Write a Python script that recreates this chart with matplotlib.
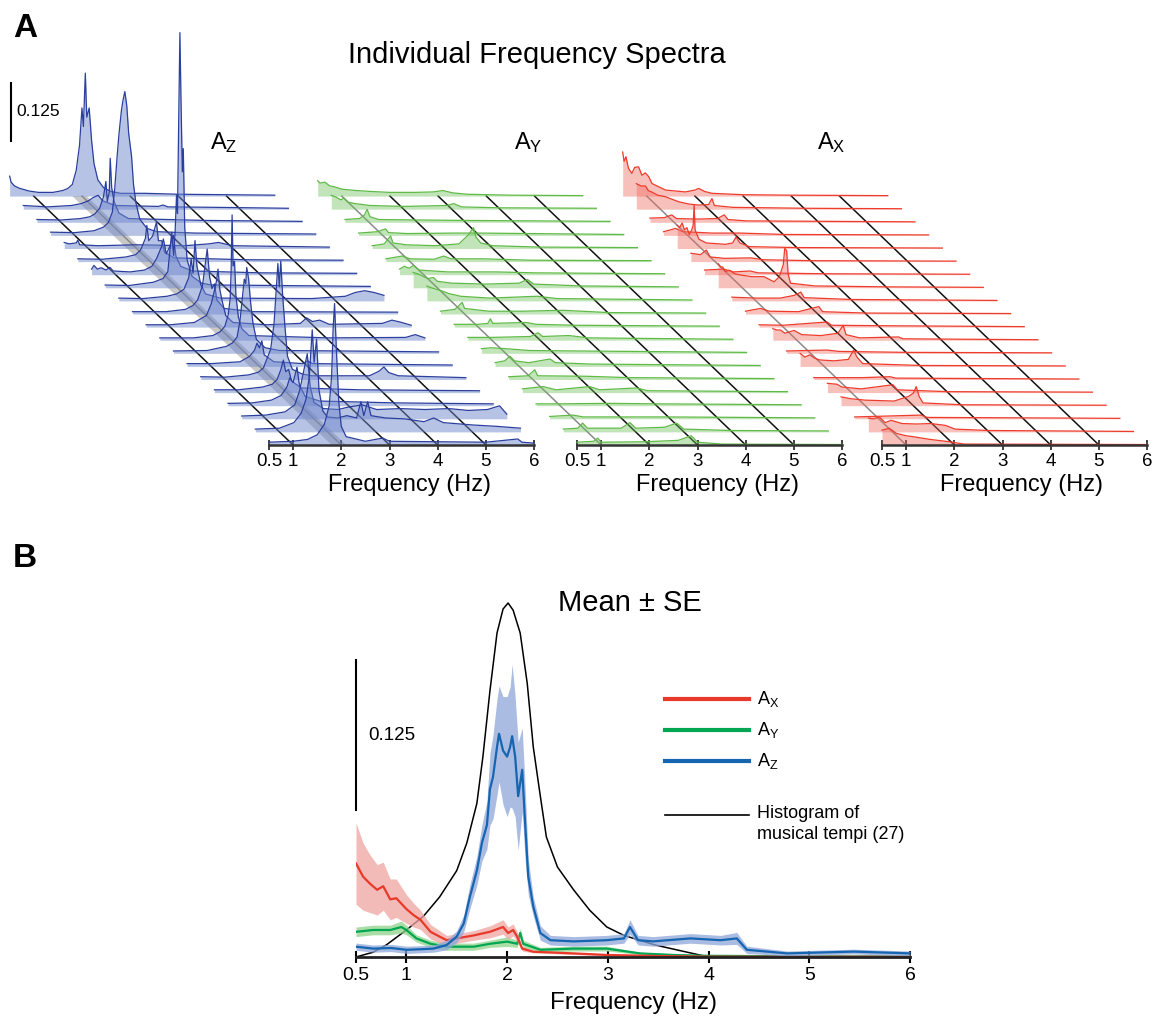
import numpy as np
import matplotlib
matplotlib.use('Agg')
import matplotlib.pyplot as plt

plt.rcParams['font.family'] = ['Liberation Sans', 'DejaVu Sans']
plt.rcParams['mathtext.default'] = 'regular'

# ---------------- data: panel A, individual spectra (freq Hz, amplitude) ----------------
# trace 0 = back (top), trace 19 = front (bottom)
AZ_TRACES = [
    [(0.5, 0.043), (0.53, 0.03), (0.6, 0.022), (0.7, 0.017), (0.8, 0.014), (0.9, 0.011), (1.1, 0.008), (1.4, 0.008),
     (1.6, 0.012), (1.7, 0.016), (1.8, 0.025), (1.88, 0.055), (1.95, 0.11), (2.0, 0.19), (2.03, 0.15), (2.07, 0.265),
     (2.1, 0.17), (2.15, 0.19), (2.2, 0.12), (2.25, 0.07), (2.33, 0.035), (2.45, 0.018), (2.6, 0.01), (2.8, 0.006),
     (3.3, 0.006), (4.0, 0.004), (5.0, 0.003), (6.0, 0.002)],
    [(0.5, 0.008), (1.0, 0.005), (1.5, 0.008), (1.7, 0.012), (1.85, 0.018), (1.95, 0.025), (2.05, 0.03), (2.15, 0.018),
     (2.4, 0.008), (3.3, 0.006), (3.4, 0.009), (3.5, 0.005), (4.5, 0.004), (6.0, 0.002)],
    [(0.5, 0.006), (1.0, 0.005), (1.4, 0.008), (1.6, 0.012), (1.7, 0.018), (1.8, 0.03), (1.88, 0.055), (1.93, 0.088),
     (1.96, 0.045), (2.0, 0.065), (2.02, 0.138), (2.05, 0.075), (2.1, 0.045), (2.2, 0.02), (2.4, 0.008), (4.0, 0.004),
     (6.0, 0.002)],
    [(0.5, 0.007), (1.0, 0.006), (1.4, 0.01), (1.6, 0.018), (1.7, 0.028), (1.78, 0.05), (1.83, 0.1), (1.88, 0.17),
     (1.92, 0.22), (1.97, 0.27), (2.0, 0.29), (2.04, 0.31), (2.08, 0.28), (2.12, 0.22), (2.18, 0.17), (2.22, 0.11),
     (2.27, 0.07), (2.35, 0.035), (2.5, 0.015), (2.7, 0.008), (3.5, 0.005), (6.0, 0.003)],
    [(0.5, 0.013), (0.6, 0.01), (0.75, 0.012), (0.78, 0.018), (0.82, 0.008), (1.2, 0.006), (2.0, 0.008), (3.0, 0.006),
     (3.5, 0.01), (3.7, 0.013), (4.0, 0.006), (6.0, 0.003)],
    [(0.5, 0.006), (1.0, 0.005), (1.5, 0.01), (1.7, 0.015), (1.8, 0.025), (1.9, 0.05), (1.93, 0.078), (1.97, 0.045),
     (2.05, 0.055), (2.13, 0.085), (2.17, 0.045), (2.24, 0.045), (2.3, 0.02), (2.5, 0.008), (4.0, 0.004), (6.0, 0.003)],
    [(0.5, 0.012), (0.55, 0.02), (0.62, 0.012), (0.7, 0.015), (0.8, 0.01), (0.88, 0.016), (0.95, 0.008), (1.3, 0.006),
     (1.6, 0.01), (1.75, 0.018), (1.85, 0.035), (1.95, 0.06), (1.99, 0.077), (2.05, 0.045), (2.12, 0.06), (2.2, 0.085),
     (2.25, 0.04), (2.35, 0.018), (2.6, 0.008), (4.0, 0.004), (6.0, 0.003)],
    [(0.5, 0.006), (1.0, 0.005), (1.5, 0.012), (1.7, 0.02), (1.8, 0.035), (1.88, 0.12), (1.92, 0.07), (1.95, 0.12),
     (1.98, 0.2), (2.0, 0.16), (2.03, 0.4), (2.05, 0.55), (2.07, 0.42), (2.1, 0.25), (2.12, 0.3), (2.15, 0.13),
     (2.2, 0.06), (2.3, 0.025), (2.5, 0.01), (2.7, 0.006), (4.0, 0.005), (6.0, 0.003)],
    [(0.5, 0.006), (1.0, 0.005), (1.5, 0.01), (1.7, 0.015), (1.85, 0.025), (1.95, 0.05), (2.0, 0.09), (2.04, 0.06),
     (2.08, 0.13), (2.12, 0.075), (2.2, 0.035), (2.3, 0.015), (2.6, 0.006), (4.5, 0.005), (5.2, 0.01), (5.4, 0.018),
     (5.6, 0.022), (5.8, 0.018), (6.0, 0.012)],
    [(0.5, 0.005), (1.2, 0.005), (1.6, 0.01), (1.75, 0.018), (1.85, 0.03), (1.95, 0.06), (2.0, 0.1), (2.05, 0.14),
     (2.1, 0.08), (2.15, 0.055), (2.2, 0.065), (2.25, 0.03), (2.4, 0.012), (3.0, 0.005), (6.0, 0.004)],
    [(0.5, 0.005), (1.0, 0.005), (1.5, 0.01), (1.75, 0.025), (1.85, 0.05), (1.92, 0.08), (1.96, 0.1), (1.99, 0.125),
     (2.03, 0.08), (2.08, 0.055), (2.15, 0.025), (2.3, 0.01), (3.0, 0.005), (3.7, 0.008), (3.83, 0.02), (3.95, 0.012),
     (4.1, 0.015), (4.3, 0.006), (5.4, 0.008), (5.6, 0.015), (5.8, 0.01), (6.0, 0.004)],
    [(0.5, 0.005), (1.2, 0.005), (1.6, 0.01), (1.75, 0.018), (1.85, 0.03), (1.92, 0.055), (1.96, 0.09), (1.98, 0.15),
     (2.0, 0.27), (2.02, 0.16), (2.05, 0.17), (2.08, 0.095), (2.13, 0.05), (2.2, 0.025), (2.35, 0.01), (4.0, 0.005),
     (5.6, 0.006), (5.8, 0.012), (6.0, 0.005)],
    [(0.5, 0.005), (1.2, 0.006), (1.6, 0.015), (1.72, 0.022), (1.82, 0.035), (1.88, 0.07), (1.93, 0.12), (1.97, 0.16),
     (2.0, 0.15), (2.02, 0.185), (2.06, 0.16), (2.1, 0.11), (2.15, 0.065), (2.22, 0.03), (2.4, 0.012), (2.7, 0.006),
     (4.0, 0.005), (6.0, 0.003)],
    [(0.5, 0.006), (1.0, 0.006), (1.6, 0.01), (1.8, 0.022), (1.9, 0.035), (1.95, 0.05), (2.0, 0.04), (2.05, 0.055),
     (2.1, 0.025), (2.3, 0.01), (2.9, 0.006), (3.0, 0.012), (3.1, 0.006), (4.0, 0.005), (6.0, 0.003)],
    [(0.5, 0.006), (1.0, 0.005), (1.5, 0.01), (1.7, 0.016), (1.8, 0.025), (1.95, 0.065), (2.02, 0.12), (2.07, 0.2),
     (2.1, 0.25), (2.13, 0.2), (2.16, 0.255), (2.2, 0.18), (2.25, 0.11), (2.3, 0.05), (2.4, 0.022), (2.6, 0.012),
     (2.8, 0.008), (4.0, 0.008), (4.2, 0.018), (4.3, 0.027), (4.4, 0.015), (4.6, 0.008), (6.0, 0.004)],
    [(0.5, 0.006), (1.0, 0.006), (1.5, 0.012), (1.7, 0.018), (1.8, 0.028), (1.88, 0.05), (1.93, 0.07), (1.98, 0.045),
     (2.04, 0.05), (2.1, 0.025), (2.3, 0.01), (3.5, 0.006), (6.0, 0.004)],
    [(0.5, 0.005), (1.0, 0.006), (1.4, 0.012), (1.6, 0.022), (1.72, 0.04), (1.78, 0.06), (1.85, 0.05), (1.93, 0.083),
     (1.98, 0.045), (2.1, 0.02), (2.4, 0.01), (4.0, 0.006), (6.0, 0.004)],
    [(0.5, 0.006), (1.0, 0.008), (1.4, 0.015), (1.6, 0.03), (1.7, 0.06), (1.78, 0.1), (1.86, 0.14), (1.92, 0.07),
     (2.0, 0.035), (2.2, 0.022), (2.5, 0.02), (2.7, 0.025), (3.0, 0.03), (3.3, 0.02), (3.8, 0.022), (4.3, 0.02),
     (4.8, 0.022), (5.2, 0.018), (5.6, 0.02), (5.85, 0.028), (6.0, 0.01)],
    [(0.5, 0.006), (1.0, 0.008), (1.3, 0.02), (1.45, 0.04), (1.55, 0.07), (1.62, 0.12), (1.68, 0.22), (1.72, 0.15),
     (1.77, 0.2), (1.82, 0.09), (1.9, 0.045), (2.0, 0.032), (2.2, 0.03), (2.4, 0.035), (2.6, 0.03), (2.69, 0.065),
     (2.75, 0.035), (2.83, 0.065), (2.9, 0.035), (3.2, 0.03), (3.6, 0.028), (4.0, 0.022), (4.2, 0.03), (4.4, 0.02),
     (5.0, 0.015), (5.5, 0.012), (6.0, 0.008)],
    [(0.5, 0.006), (1.0, 0.008), (1.3, 0.012), (1.5, 0.022), (1.65, 0.045), (1.75, 0.085), (1.8, 0.15), (1.83, 0.25),
     (1.86, 0.305), (1.9, 0.2), (1.95, 0.09), (2.0, 0.04), (2.1, 0.018), (2.5, 0.008), (2.86, 0.015), (3.0, 0.008),
     (4.0, 0.007), (5.0, 0.006), (5.66, 0.013), (5.75, 0.006), (6.0, 0.004)],
]

AY_TRACES = [
    [(0.5, 0.033), (0.55, 0.028), (0.65, 0.03), (0.75, 0.022), (0.85, 0.02), (1.0, 0.015), (1.3, 0.012), (1.6, 0.01),
     (2.0, 0.008), (2.5, 0.008), (2.9, 0.009), (3.1, 0.012), (3.3, 0.007), (3.6, 0.004), (4.5, 0.002), (6.0, 0.001)],
    [(0.5, 0.03), (0.6, 0.026), (0.7, 0.02), (0.76, 0.024), (0.85, 0.015), (1.0, 0.012), (1.3, 0.008), (2.0, 0.006),
     (2.9, 0.008), (3.04, 0.012), (3.2, 0.005), (4.0, 0.003), (6.0, 0.002)],
    [(0.5, 0.006), (0.8, 0.008), (0.9, 0.015), (0.96, 0.028), (1.02, 0.012), (1.2, 0.006), (2.0, 0.005), (3.0, 0.004),
     (6.0, 0.002)],
    [(0.5, 0.005), (0.9, 0.008), (1.0, 0.012), (1.06, 0.014), (1.12, 0.006), (1.5, 0.004), (2.5, 0.005), (3.0, 0.005),
     (6.0, 0.002)],
    [(0.5, 0.006), (0.75, 0.01), (0.88, 0.027), (0.93, 0.012), (1.2, 0.008), (1.8, 0.006), (2.3, 0.01), (2.5, 0.03),
     (2.6, 0.045), (2.65, 0.025), (2.75, 0.012), (3.0, 0.006), (4.0, 0.003), (6.0, 0.002)],
    [(0.5, 0.006), (0.84, 0.012), (1.0, 0.006), (1.5, 0.005), (1.7, 0.012), (1.85, 0.006), (2.5, 0.006), (3.5, 0.003),
     (6.0, 0.002)],
    [(0.5, 0.012), (0.6, 0.018), (0.7, 0.014), (0.79, 0.02), (0.9, 0.01), (1.5, 0.006), (2.5, 0.006), (3.3, 0.004),
     (6.0, 0.002)],
    [(0.5, 0.033), (0.6, 0.03), (0.7, 0.025), (0.8, 0.02), (0.92, 0.022), (1.0, 0.014), (1.3, 0.01), (2.0, 0.008),
     (2.7, 0.01), (2.87, 0.018), (3.0, 0.008), (4.0, 0.004), (6.0, 0.002)],
    [(0.5, 0.032), (0.6, 0.028), (0.7, 0.025), (0.8, 0.022), (0.95, 0.016), (1.2, 0.01), (1.8, 0.006), (2.79, 0.01),
     (3.2, 0.005), (6.0, 0.002)],
    [(0.5, 0.006), (0.8, 0.01), (0.95, 0.025), (1.0, 0.012), (1.5, 0.006), (2.2, 0.006), (3.05, 0.008), (4.0, 0.003),
     (6.0, 0.002)],
    [(0.5, 0.006), (1.0, 0.006), (1.2, 0.008), (1.25, 0.018), (1.3, 0.008), (2.0, 0.01), (2.2, 0.006), (3.0, 0.004),
     (6.0, 0.002)],
    [(0.5, 0.006), (1.0, 0.006), (1.8, 0.008), (1.96, 0.016), (2.05, 0.008), (2.6, 0.01), (3.0, 0.005), (6.0, 0.002)],
    [(0.5, 0.01), (0.7, 0.012), (0.99, 0.01), (1.5, 0.006), (2.5, 0.005), (6.0, 0.002)],
    [(0.5, 0.008), (0.7, 0.012), (0.81, 0.022), (0.9, 0.012), (1.2, 0.008), (1.64, 0.016), (1.75, 0.008), (2.5, 0.005),
     (6.0, 0.002)],
    [(0.5, 0.006), (0.9, 0.008), (1.04, 0.021), (1.1, 0.008), (2.1, 0.007), (3.0, 0.004), (6.0, 0.002)],
    [(0.5, 0.008), (0.93, 0.013), (1.2, 0.006), (1.9, 0.013), (2.1, 0.006), (2.87, 0.01), (3.1, 0.004), (6.0, 0.002)],
    [(0.5, 0.004), (1.0, 0.004), (2.0, 0.005), (3.0, 0.004), (6.0, 0.002)],
    [(0.5, 0.005), (0.98, 0.008), (1.2, 0.004), (3.0, 0.004), (6.0, 0.002)],
    [(0.5, 0.006), (0.8, 0.008), (0.9, 0.019), (1.0, 0.008), (1.7, 0.008), (1.88, 0.02), (2.0, 0.008), (2.6, 0.01),
     (2.85, 0.019), (3.0, 0.006), (4.0, 0.003), (6.0, 0.002)],
    [(0.5, 0.006), (0.85, 0.008), (0.93, 0.015), (1.0, 0.006), (1.9, 0.007), (2.6, 0.01), (2.87, 0.02), (3.0, 0.006),
     (3.5, 0.002), (6.0, 0.001)],
]

AX_TRACES = [
    [(0.5, 0.095), (0.53, 0.075), (0.57, 0.085), (0.62, 0.06), (0.69, 0.049), (0.75, 0.062), (0.83, 0.063), (0.9, 0.045),
     (0.97, 0.05), (1.04, 0.042), (1.11, 0.027), (1.25, 0.02), (1.39, 0.013), (1.6, 0.011), (1.8, 0.009), (2.0, 0.013),
     (2.08, 0.0165), (2.2, 0.01), (2.35, 0.006), (3.0, 0.003), (4.0, 0.002), (6.0, 0.001)],
    [(0.5, 0.055), (0.6, 0.05), (0.69, 0.05), (0.75, 0.04), (0.82, 0.037), (0.95, 0.03), (1.1, 0.027), (1.38, 0.016),
     (1.6, 0.011), (1.79, 0.009), (2.0, 0.01), (2.07, 0.023), (2.12, 0.008), (2.5, 0.004), (4.0, 0.002), (6.0, 0.001)],
    [(0.5, 0.009), (0.8, 0.01), (0.95, 0.016), (1.05, 0.008), (1.5, 0.007), (1.9, 0.008), (2.04, 0.016), (2.12, 0.006),
     (2.5, 0.003), (6.0, 0.001)],
    [(0.5, 0.008), (0.75, 0.015), (0.9, 0.008), (1.5, 0.005), (2.1, 0.005), (3.0, 0.002), (6.0, 0.001)],
    [(0.5, 0.05), (0.55, 0.045), (0.6, 0.055), (0.65, 0.04), (0.7, 0.045), (0.75, 0.03), (0.8, 0.04), (0.83, 0.05),
     (0.85, 0.094), (0.87, 0.04), (0.95, 0.02), (1.1, 0.012), (1.5, 0.009), (1.65, 0.012), (1.72, 0.025), (1.8, 0.012),
     (2.0, 0.004), (3.0, 0.002), (6.0, 0.001)],
    [(0.5, 0.018), (0.7, 0.015), (0.82, 0.025), (0.9, 0.01), (1.2, 0.007), (1.75, 0.008), (2.0, 0.004), (3.0, 0.002),
     (6.0, 0.001)],
    [(0.5, 0.01), (0.9, 0.012), (1.1, 0.006), (1.45, 0.008), (1.6, 0.004), (3.0, 0.002), (6.0, 0.001)],
    [(0.5, 0.052), (0.55, 0.045), (0.59, 0.045), (0.65, 0.035), (0.73, 0.038), (0.85, 0.03), (1.0, 0.027), (1.2, 0.024),
     (1.45, 0.024), (1.6, 0.016), (1.66, 0.013), (1.77, 0.024), (1.85, 0.05), (1.88, 0.085), (1.92, 0.08), (1.95, 0.03),
     (2.0, 0.01), (2.5, 0.004), (4.0, 0.002), (6.0, 0.001)],
    [(0.5, 0.008), (1.0, 0.006), (1.5, 0.006), (1.8, 0.012), (1.93, 0.019), (2.0, 0.007), (3.0, 0.003), (6.0, 0.001)],
    [(0.5, 0.006), (0.81, 0.012), (1.0, 0.006), (1.6, 0.005), (2.02, 0.016), (2.1, 0.005), (3.0, 0.002), (6.0, 0.001)],
    [(0.5, 0.005), (1.0, 0.004), (1.91, 0.011), (2.0, 0.004), (3.0, 0.003), (6.0, 0.001)],
    [(0.5, 0.025), (0.58, 0.022), (0.66, 0.022), (0.75, 0.015), (0.94, 0.021), (1.1, 0.012), (1.5, 0.01), (1.85, 0.015),
     (1.96, 0.032), (2.02, 0.012), (2.3, 0.005), (3.11, 0.007), (3.2, 0.003), (6.0, 0.001)],
    [(0.5, 0.005), (1.34, 0.007), (1.6, 0.004), (3.0, 0.002), (6.0, 0.001)],
    [(0.5, 0.028), (0.6, 0.02), (0.7, 0.025), (0.8, 0.018), (0.9, 0.014), (1.2, 0.012), (1.5, 0.015), (1.61, 0.035),
     (1.68, 0.02), (1.8, 0.006), (3.0, 0.002), (6.0, 0.001)],
    [(0.5, 0.004), (1.5, 0.004), (2.08, 0.006), (2.2, 0.003), (6.0, 0.001)],
    [(0.5, 0.02), (0.7, 0.018), (0.8, 0.012), (1.2, 0.008), (1.86, 0.017), (1.95, 0.006), (3.0, 0.002), (6.0, 0.001)],
    [(0.5, 0.019), (0.7, 0.015), (1.0, 0.012), (1.6, 0.01), (1.9, 0.02), (2.0, 0.027), (2.06, 0.041), (2.12, 0.02),
     (2.2, 0.006), (3.0, 0.002), (6.0, 0.001)],
    [(0.5, 0.004), (1.88, 0.008), (2.0, 0.003), (6.0, 0.001)],
    [(0.5, 0.03), (0.6, 0.028), (0.73, 0.032), (0.85, 0.02), (0.97, 0.025), (1.2, 0.018), (1.5, 0.017), (1.8, 0.018),
     (2.1, 0.014), (2.3, 0.006), (3.0, 0.003), (6.0, 0.001)],
    [(0.5, 0.032), (0.65, 0.036), (0.8, 0.025), (1.0, 0.02), (1.14, 0.018), (1.5, 0.012), (1.9, 0.007), (2.2, 0.002),
     (6.0, 0.001)],
]

# ---------------- data: panel B, mean +- SE ----------------
ax_freq = [0.5, 0.57, 0.64, 0.71, 0.77, 0.84, 0.9, 1.0, 1.07, 1.14, 1.24, 1.33, 1.4, 1.5, 1.67, 1.83, 1.96, 2.01,
           2.06, 2.1, 2.15, 2.26, 2.66, 2.99, 3.5, 4.0, 5.0, 6.0]
ax_mean = [0.078, 0.067, 0.061, 0.056, 0.059, 0.048, 0.049, 0.040, 0.035, 0.031, 0.021, 0.017, 0.014, 0.0155, 0.018,
           0.021, 0.025, 0.020, 0.0225, 0.017, 0.007, 0.0044, 0.003, 0.0017, 0.0008, 0.0003, 0.0002, 0.0002]
ax_se = [0.034, 0.028, 0.024, 0.021, 0.02, 0.017, 0.016, 0.012, 0.01, 0.008, 0.006, 0.005, 0.004, 0.004, 0.004,
         0.005, 0.006, 0.005, 0.005, 0.004, 0.002, 0.001, 0.001, 0.0008, 0.0005, 0.0003, 0.0002, 0.0002]

ay_freq = [0.5, 0.67, 0.84, 0.95, 1.0, 1.1, 1.24, 1.4, 1.67, 1.83, 2.0, 2.1, 2.13, 2.16, 2.33, 2.5, 2.66, 2.99, 3.32,
           3.7, 4.0, 5.0, 6.0]
ay_mean = [0.021, 0.0225, 0.0225, 0.025, 0.0225, 0.0155, 0.011, 0.0086, 0.0086, 0.011, 0.0128, 0.011, 0.02, 0.011,
           0.006, 0.0065, 0.007, 0.007, 0.003, 0.0015, 0.001, 0.0005, 0.0004]
ay_se = [0.004, 0.004, 0.004, 0.005, 0.004, 0.003, 0.003, 0.003, 0.003, 0.003, 0.004, 0.003, 0.004, 0.003, 0.002,
         0.002, 0.002, 0.002, 0.001, 0.001, 0.0008, 0.0005, 0.0005]

az_freq = [0.5, 0.67, 0.85, 1.0, 1.15, 1.27, 1.4, 1.5, 1.57, 1.63, 1.7, 1.75, 1.8, 1.83, 1.86, 1.9, 1.92, 1.96, 2.0,
           2.03, 2.05, 2.08, 2.11, 2.15, 2.18, 2.21, 2.26, 2.33, 2.43, 2.66, 2.99, 3.16, 3.22, 3.3, 3.45, 3.82, 4.12,
           4.28, 4.38, 4.78, 5.44, 6.0]
az_mean = [0.0086, 0.007, 0.0075, 0.006, 0.0065, 0.007, 0.01, 0.017, 0.028, 0.05, 0.072, 0.095, 0.11, 0.14, 0.15,
           0.175, 0.186, 0.172, 0.167, 0.175, 0.184, 0.167, 0.134, 0.156, 0.11, 0.067, 0.042, 0.02, 0.014, 0.013,
           0.014, 0.0155, 0.025, 0.014, 0.013, 0.0155, 0.014, 0.0155, 0.006, 0.003, 0.0045, 0.003]
az_se = [0.003, 0.003, 0.003, 0.003, 0.003, 0.003, 0.004, 0.005, 0.007, 0.01, 0.012, 0.015, 0.02, 0.03, 0.035, 0.04,
         0.04, 0.045, 0.05, 0.05, 0.06, 0.05, 0.045, 0.035, 0.03, 0.015, 0.008, 0.006, 0.004, 0.004, 0.004, 0.004,
         0.006, 0.004, 0.004, 0.004, 0.004, 0.005, 0.003, 0.002, 0.002, 0.002]

hist_freq = [0.5, 0.67, 0.8, 1.0, 1.17, 1.33, 1.5, 1.6, 1.7, 1.76, 1.83, 1.9, 1.96, 2.01, 2.06, 2.13, 2.2, 2.26, 2.33,
             2.39, 2.5, 2.66, 2.82, 2.99, 3.16, 3.47, 4.0]
hist_val = [0.0, 0.004, 0.01, 0.0225, 0.034, 0.05, 0.072, 0.095, 0.128, 0.167, 0.222, 0.27, 0.29, 0.295, 0.289, 0.27,
            0.228, 0.175, 0.134, 0.1, 0.075, 0.056, 0.039, 0.025, 0.018, 0.01, 0.0]

freq_ticks = [0.5, 1, 2, 3, 4, 5, 6]
freq_ticklabels = ['0.5', '1', '2', '3', '4', '5', '6']

# ---------------- layout ----------------
W, H = 1156, 1017
fig = plt.figure(figsize=(W / 100, H / 100), dpi=100)


def px_axes(left, right, bottom, top):
    return fig.add_axes([left / W, 1 - bottom / H, (right - left) / W, (bottom - top) / H])


PX_HZ = 48.2      # pixels per Hz in panel A
PX_AMP = 464.0    # pixels per amplitude unit in panel A
SX = 13.65 / PX_HZ
SY = 13.1 / PX_AMP
BASE_Y = 445


def waterfall(x0, traces, line_c, fill_c, fill_a, grey_line, band=False):
    ax = px_axes(x0 - 265, x0 + 268, BASE_Y, 20)
    ax.patch.set_visible(False)
    ax.set_xlim(0.5 - 265 / PX_HZ, 0.5 + 268 / PX_HZ)
    ax.set_ylim(0, (BASE_Y - 20) / PX_AMP)
    n = len(traces)
    top = n - 1
    if band:
        ax.fill([1.8 - top * SX, 2.1 - top * SX, 2.1, 1.8], [top * SY, top * SY, 0, 0],
                color='#9c9c9c', alpha=0.55, lw=0, zorder=1)
    for f0 in [1, 2, 3, 4, 5]:
        c = '#111111'
        if f0 == grey_line:
            c = '#8a8a8a'
        ax.plot([f0 - top * SX, f0], [top * SY, 0], color=c, lw=1.1, zorder=2)
    for k, tr in enumerate(traces):
        lvl = top - k
        f = np.array([p[0] for p in tr])
        a = np.array([p[1] for p in tr])
        x = f - lvl * SX
        y0 = lvl * SY
        ax.fill_between(x, y0, y0 + a, color=fill_c, alpha=fill_a, lw=0, zorder=3 + 2 * k)
        ax.plot(x, y0 + a, color=line_c, lw=0.9, zorder=4 + 2 * k)
    for s in ['top', 'right', 'left']:
        ax.spines[s].set_visible(False)
    ax.spines['bottom'].set_bounds(0.5, 6)
    ax.spines['bottom'].set_linewidth(1.8)
    ax.spines['bottom'].set_color('#333333')
    ax.spines['bottom'].set_zorder(60)
    ax.set_yticks([])
    ax.set_xticks(freq_ticks)
    ax.set_xticklabels(freq_ticklabels)
    ax.tick_params(axis='x', direction='inout', length=7, width=1.3, labelsize=13.5, pad=2, color='#333333')
    ax.set_xlabel('Frequency (Hz)', fontsize=17)
    ax.xaxis.set_label_coords((265 + 140) / 533, -0.069)
    return ax


ax_z = waterfall(269, AZ_TRACES, '#2b3f9e', '#7088cc', 0.5, 2, band=True)
ax_y = waterfall(577, AY_TRACES, '#5fba46', '#6cc25a', 0.42, 1)
ax_x = waterfall(882, AX_TRACES, '#ee3b2b', '#ee6a5f', 0.42, 1)

# scale bar, panel A
sb_x = 0.5 - (269 - 11) / PX_HZ
sb_y0 = (BASE_Y - 141) / PX_AMP
ax_z.plot([sb_x, sb_x], [sb_y0, sb_y0 + 0.125], color='black', lw=1.5, clip_on=False)
ax_z.text(sb_x + 0.11, sb_y0 + 0.0625, '0.125', fontsize=12.5, va='center', ha='left')

fig.text(13 / W, 1 - 13 / H, 'A', fontsize=24, fontweight='bold', va='top', ha='left')
fig.text(537 / W, 1 - 55 / H, 'Individual Frequency Spectra', fontsize=21, ha='center', va='center')
fig.text(210 / W, 1 - 149 / H, '$A_Z$', fontsize=17, ha='left', va='baseline')
fig.text(514 / W, 1 - 149 / H, '$A_Y$', fontsize=17, ha='left', va='baseline')
fig.text(817 / W, 1 - 149 / H, '$A_X$', fontsize=17, ha='left', va='baseline')

# ---------------- panel B ----------------
fig.text(13 / W, 1 - 543 / H, 'B', fontsize=24, fontweight='bold', va='top', ha='left')
fig.text(630 / W, 1 - 603 / H, 'Mean ± SE', fontsize=21, ha='center', va='center')
axb = px_axes(356, 910, 957, 585)
axb.patch.set_visible(False)
axb.set_xlim(0.5, 6)
axb.set_ylim(0, 0.31)

axb.plot(hist_freq, hist_val, color='black', lw=1.1, zorder=2)

series = [
    (ay_freq, ay_mean, ay_se, '#00a651', '#8fd48a'),
    (ax_freq, ax_mean, ax_se, '#e8392a', '#f0a4a0'),
    (az_freq, az_mean, az_se, '#1565b0', '#8fa6da'),
]
for i, (fq, m, se, lc, fc) in enumerate(series):
    fq = np.array(fq)
    m = np.array(m)
    se = np.array(se)
    axb.fill_between(fq, np.clip(m - se, 0, None), m + se, color=fc, alpha=0.75, lw=0, zorder=3 + 2 * i)
    axb.plot(fq, m, color=lc, lw=1.6, zorder=4 + 2 * i)

for s in ['top', 'right', 'left']:
    axb.spines[s].set_visible(False)
axb.spines['bottom'].set_bounds(0.5, 6)
axb.spines['bottom'].set_linewidth(2)
axb.spines['bottom'].set_color('#222222')
axb.spines['bottom'].set_zorder(30)
axb.set_yticks([])
axb.set_xticks(freq_ticks)
axb.set_xticklabels(freq_ticklabels)
axb.tick_params(axis='x', direction='inout', length=8, width=1.5, labelsize=14, pad=3)
axb.set_xlabel('Frequency (Hz)', fontsize=17.5, labelpad=6)

# scale bar, panel B
axb.plot([0.5, 0.5], [0.1225, 0.1225 + 0.125], color='black', lw=1.5, clip_on=False)
axb.text(0.62, 0.1225 + 0.0625, '0.125', fontsize=13.5, va='center', ha='left')

# legend
leg_items = [('$A_X$', '#e8392a', 3.0, 0.694, 0.694, 'center'),
             ('$A_Y$', '#00a651', 3.0, 0.610, 0.610, 'center'),
             ('$A_Z$', '#1565b0', 3.0, 0.527, 0.527, 'center'),
             ('Histogram of\nmusical tempi (27)', 'black', 1.2, 0.382, 0.409, 'top')]
for lab, c, lw, yy, ty, va in leg_items:
    axb.plot([0.558, 0.709], [yy, yy], color=c, lw=lw, transform=axb.transAxes, clip_on=False)
    axb.text(0.724, ty, lab, fontsize=13, va=va, ha='left', transform=axb.transAxes, linespacing=1.3)

fig.savefig('out.png', dpi=100)
